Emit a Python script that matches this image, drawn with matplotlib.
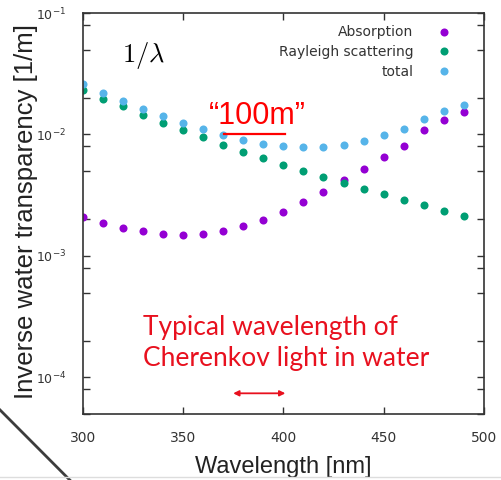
import numpy as np
import matplotlib
matplotlib.use('Agg')
import matplotlib.pyplot as plt
from matplotlib.ticker import LogLocator, NullFormatter
from matplotlib.lines import Line2D

wavelength = [300, 310, 320, 330, 340, 350, 360, 370, 380, 390,
              400, 410, 420, 430, 440, 450, 460, 470, 480, 490]
absorption = [2.11e-3, 1.88e-3, 1.71e-3, 1.60e-3, 1.52e-3, 1.48e-3, 1.52e-3, 1.60e-3, 1.75e-3, 1.99e-3,
              2.31e-3, 2.79e-3, 3.36e-3, 4.22e-3, 5.20e-3, 6.50e-3, 8.11e-3, 1.09e-2, 1.31e-2, 1.52e-2]
rayleigh = [2.34e-2, 1.97e-2, 1.70e-2, 1.46e-2, 1.25e-2, 1.08e-2, 9.45e-3, 8.26e-3, 7.24e-3, 6.42e-3,
            5.65e-3, 5.04e-3, 4.49e-3, 3.99e-3, 3.53e-3, 3.21e-3, 2.89e-3, 2.62e-3, 2.35e-3, 2.14e-3]
total = [2.58e-2, 2.20e-2, 1.88e-2, 1.62e-2, 1.42e-2, 1.24e-2, 1.11e-2, 9.87e-3, 9.04e-3, 8.38e-3,
         8.00e-3, 7.85e-3, 7.85e-3, 8.22e-3, 8.80e-3, 9.81e-3, 1.11e-2, 1.35e-2, 1.55e-2, 1.76e-2]

# annotation positions (nm, 1/m)
line_100m = ([370.5, 401], [1e-2, 1e-2])
cherenkov_range = (375, 401)

fig = plt.figure(figsize=(5.02, 4.8), dpi=100)
ax = fig.add_axes([0.1647, 0.1375, 0.7995, 0.8354])

ax.plot(wavelength, absorption, 'o', color='#9400d3', ms=5.8, mew=0, label='Absorption')
ax.plot(wavelength, rayleigh, 'o', color='#009e73', ms=5.8, mew=0, label='Rayleigh scattering')
ax.plot(wavelength, total, 'o', color='#56b4e9', ms=5.8, mew=0, label='total')

ax.set_yscale('log')
ax.set_xlim(300, 500)
ax.set_ylim(5e-5, 1e-1)
ax.set_xticks([300, 350, 400, 450, 500])
ax.yaxis.set_major_locator(LogLocator(base=10, numticks=10))
ax.yaxis.set_minor_locator(LogLocator(base=10, subs=[2, 5, 8], numticks=10))
ax.yaxis.set_minor_formatter(NullFormatter())

for s in ax.spines.values():
    s.set_color('#333333')
    s.set_linewidth(1.2)
ax.tick_params(which='both', direction='in', top=True, right=True, color='#333333', width=1.0, length=5)
ax.tick_params(axis='x', labelsize=10, pad=12, labelcolor='#333333')
ax.tick_params(axis='y', labelsize=9, pad=12, labelcolor='#333333')

ax.set_xlabel('Wavelength [nm]', fontsize=17, color='#222222', labelpad=8, family='Liberation Sans')
ax.set_ylabel('Inverse water transparency [1/m]', fontsize=18.5, color='#222222', family='Liberation Sans')
ax.yaxis.set_label_coords(-0.112, 0.506)

leg = ax.legend(loc='upper right', bbox_to_anchor=(0.918, 0.969), markerfirst=False,
                frameon=False, fontsize=10, handlelength=1, handletextpad=1.7,
                labelspacing=0.42, borderaxespad=0, borderpad=0)
for t in leg.get_texts():
    t.set_color('#333333')

ax.text(0.097, 0.895, r'$1/\lambda$', transform=ax.transAxes, fontsize=19,
        ha='left', va='center', math_fontfamily='cm')

ax.text(387, 1.43e-2, '\u201c100m\u201d', color='red', fontsize=22, ha='center', va='center',
        family='Liberation Sans')
ax.plot(line_100m[0], line_100m[1], color='red', lw=1.6)

ax.text(0.1495, 0.178, 'Typical wavelength of\nCherenkov light in water', transform=ax.transAxes,
        color='#e8101e', fontsize=19, ha='left', va='center', family='Lato', linespacing=1.3)
ax.annotate('', xy=(cherenkov_range[0], 7.4e-5), xytext=(cherenkov_range[1], 7.4e-5),
            arrowprops=dict(arrowstyle='<|-|>', color='#e8101e', lw=1.3,
                            mutation_scale=8, shrinkA=0, shrinkB=0))

fig.add_artist(Line2D([0, 0.139], [0.146, 0.0], color='#3d3d3d', lw=2.0, transform=fig.transFigure))
fig.add_artist(Line2D([0, 1], [0.006, 0.006], color='#dddddd', lw=1.0, transform=fig.transFigure))

fig.savefig('out.png', dpi=100)
